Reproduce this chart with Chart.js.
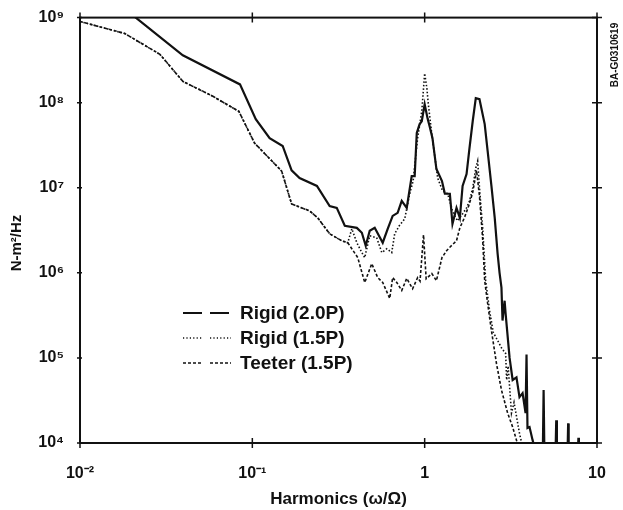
<!DOCTYPE html>
<html>
<head>
<meta charset="utf-8">
<script src="https://cdn.jsdelivr.net/npm/chart.js@4.4.0/dist/chart.umd.min.js"></script>
<style>
  html, body { margin: 0; padding: 0; background: #fff; }
</style>
</head>
<body>
<canvas id="myChart" width="623" height="510"></canvas>
<script>
// tick values and labels
let xTicks = [0.01, 0.1, 1, 10];
let xTickLabels = ['10⁻²', '10⁻¹', '1', '10'];
let yTicks = [1e4, 1e5, 1e6, 1e7, 1e8, 1e9];
let yTickLabels = ['10⁴', '10⁵', '10⁶', '10⁷', '10⁸', '10⁹'];

let seriesNames = ['Rigid (2.0P)', 'Rigid (1.5P)', 'Teeter (1.5P)'];

// Rigid (2.0P)
let rigid20X = [0.0175, 0.0395, 0.0848, 0.1047, 0.126, 0.150, 0.169, 0.188, 0.237, 0.281, 0.309, 0.344, 0.404, 0.432, 0.455, 0.480, 0.513, 0.571, 0.611, 0.652, 0.697, 0.736, 0.787, 0.841, 0.875, 0.900, 0.935, 0.962, 1.0, 1.04, 1.07, 1.11, 1.17, 1.26, 1.31, 1.40, 1.45, 1.53, 1.60, 1.66, 1.75, 1.82, 1.90, 1.98, 2.08, 2.23, 2.32, 2.44, 2.55, 2.65, 2.72, 2.79, 2.83, 2.91, 2.95, 3.11, 3.24, 3.41, 3.55, 3.70, 3.85, 3.90, 3.95, 4.06, 4.23, 4.40, 4.85, 4.90, 4.95, 5.75, 5.80, 5.85, 6.75, 6.80, 6.85, 7.75, 7.80, 7.85];
let rigid20Y = [1.35e9, 3.6e8, 1.64e8, 6.4e7, 3.83e7, 3.1e7, 1.6e7, 1.3e7, 1.05e7, 6.1e6, 5.8e6, 3.57e6, 3.38e6, 2.96e6, 2.08e6, 3.12e6, 3.38e6, 2.26e6, 3.30e6, 4.67e6, 5.07e6, 7.0e6, 5.8e6, 1.37e7, 1.37e7, 4.4e7, 5.6e7, 6.05e7, 9.6e7, 6.5e7, 5.2e7, 3.83e7, 1.66e7, 1.2e7, 8.5e6, 8.5e6, 3.77e6, 5.8e6, 4.43e6, 1.05e7, 1.45e7, 2.92e7, 6.05e7, 1.13e8, 1.10e8, 5.6e7, 2.70e7, 1.05e7, 4.43e6, 1.68e6, 1.0e6, 6.7e5, 2.75e5, 4.7e5, 3.3e5, 1.0e5, 5.5e4, 5.9e4, 3.46e4, 3.85e4, 2.25e4, 1.1e5, 1.5e4, 1.54e4, 1.08e4, 8e3, 8e3, 4.2e4, 8e3, 8e3, 1.85e4, 8e3, 8e3, 1.7e4, 8e3, 8e3, 1.15e4, 8e3];

// low frequency part shared by both 1.5P runs
let lowX = [0.01, 0.0182, 0.0291, 0.0395, 0.059, 0.0835, 0.103, 0.148, 0.169, 0.215, 0.240, 0.281, 0.330, 0.358];
let lowY = [9.0e8, 6.5e8, 3.7e8, 1.78e8, 1.19e8, 7.9e7, 3.35e7, 1.57e7, 6.45e6, 5.35e6, 4.4e6, 2.88e6, 2.38e6, 2.26e6];

// Rigid (1.5P)
let rigid15X = [0.378, 0.404, 0.432, 0.449, 0.480, 0.527, 0.564, 0.603, 0.644, 0.670, 0.712, 0.766, 0.819, 0.857, 0.91, 0.962, 1.0, 1.03, 1.05, 1.10, 1.14, 1.19, 1.27, 1.36, 1.45, 1.55, 1.66, 1.75, 1.82, 1.90, 1.98, 2.03, 2.08, 2.17, 2.26, 2.38, 2.5, 2.8, 2.95, 2.99, 3.05, 3.19, 3.3, 3.55, 3.7];
let rigid15Y = [3.3e6, 2.26e6, 1.73e6, 1.51e6, 2.73e6, 2.58e6, 1.73e6, 1.92e6, 1.73e6, 2.88e6, 3.57e6, 4.31e6, 8.5e6, 1.2e7, 3.83e7, 7.9e7, 2.21e8, 1.47e8, 9.6e7, 4.27e7, 2.49e7, 1.3e7, 9.2e6, 8.5e6, 5.35e6, 4.08e6, 4.93e6, 5.8e6, 7.0e6, 9.95e6, 1.71e7, 2.06e7, 1.0e7, 3.38e6, 8.1e5, 3.6e5, 2.0e5, 1.3e5, 1.13e5, 5.5e4, 8e4, 2.25e4, 3e4, 1.3e4, 9e3];

// Teeter (1.5P)
let teeterX = [0.409, 0.449, 0.493, 0.534, 0.571, 0.627, 0.652, 0.689, 0.736, 0.787, 0.851, 0.91, 0.94, 0.985, 1.02, 1.10, 1.17, 1.26, 1.34, 1.40, 1.53, 1.60, 1.70, 1.80, 1.90, 2.0, 2.08, 2.17, 2.23, 2.32, 2.44, 2.61, 2.79, 3.03, 3.24, 3.41, 3.6];
let teeterY = [1.51e6, 7.7e5, 1.28e6, 8.8e5, 7.7e5, 5.0e5, 8.8e5, 7.7e5, 6.2e5, 8.6e5, 6.5e5, 8.8e5, 8.0e5, 2.8e6, 8.5e5, 9.8e5, 8.1e5, 1.51e6, 1.82e6, 2.0e6, 2.38e6, 3.38e6, 4.43e6, 6.1e6, 8.8e6, 1.6e7, 8e6, 2.5e6, 8.1e5, 4.36e5, 2.1e5, 8.6e4, 4.2e4, 2.25e4, 1.54e4, 1.08e4, 8e3];

function toPoints(xs, ys)
{
    return xs.map((x, i) => ({ x: x, y: ys[i] }));
}

let fontFamily = '"Liberation Sans", Arial, Helvetica, sans-serif';
let ink = '#111';

// dash styles for the legend samples
let legendDash = [[19, 8], [1.2, 2.2], [3, 2]];

let framePlugin =
{
    id: 'frame',
    afterDatasetsDraw(chart)
    {
        let c = chart.ctx;
        let a = chart.chartArea;
        let xs = chart.scales.x;
        let ys = chart.scales.y;

        c.save();
        c.strokeStyle = ink;
        c.lineWidth = 2;
        c.strokeRect(a.left, a.top, a.right - a.left, a.bottom - a.top);

        c.lineWidth = 1.5;
        c.beginPath();
        xTicks.forEach(v =>
        {
            let px = xs.getPixelForValue(v);
            c.moveTo(px, a.bottom - 5); c.lineTo(px, a.bottom + 5);
            c.moveTo(px, a.top - 5); c.lineTo(px, a.top + 5);
        });
        yTicks.forEach(v =>
        {
            let py = ys.getPixelForValue(v);
            c.moveTo(a.right - 5, py); c.lineTo(a.right + 5, py);
            c.moveTo(a.left - 3, py); c.lineTo(a.left + 2, py);
        });
        c.stroke();
        c.restore();
    },
    afterDraw(chart)
    {
        let c = chart.ctx;
        let a = chart.chartArea;
        c.save();

        // legend inside the plot
        let rows = [313, 338, 363];
        seriesNames.forEach((name, i) =>
        {
            c.strokeStyle = ink;
            c.lineWidth = i == 0 ? 2 : 1.6;
            c.setLineDash(legendDash[i]);
            c.beginPath();
            c.moveTo(183, rows[i]); c.lineTo(203, rows[i]);
            c.moveTo(210, rows[i]); c.lineTo(231, rows[i]);
            c.stroke();
            c.setLineDash([]);
            c.fillStyle = ink;
            c.font = 'bold 19px ' + fontFamily;
            c.textAlign = 'left';
            c.textBaseline = 'middle';
            c.fillText(name, 240, rows[i] + 1);
        });

        // y axis title, sits a little below the middle of the axis
        c.save();
        c.translate(17, 243);
        c.rotate(-Math.PI / 2);
        c.font = 'bold 15px ' + fontFamily;
        c.textAlign = 'center';
        c.textBaseline = 'middle';
        c.fillText('N-m²/Hz', 0, 0);
        c.restore();

        // figure id on the right edge
        c.translate(a.right + 18, 55);
        c.rotate(-Math.PI / 2);
        c.font = 'bold 10px ' + fontFamily;
        c.textAlign = 'center';
        c.textBaseline = 'middle';
        c.fillText('BA-G0310619', 0, 0);
        c.restore();
    }
};

let ctx = document.getElementById('myChart').getContext('2d');

let myChart = new Chart(ctx,
{
    type: 'line',
    data:
    {
        datasets:
        [
            {
                label: seriesNames[0],
                data: toPoints(rigid20X, rigid20Y),
                borderColor: ink,
                borderWidth: 2.2,
            },
            {
                label: seriesNames[1],
                data: toPoints(lowX.concat(rigid15X), lowY.concat(rigid15Y)),
                borderColor: ink,
                borderWidth: 1.6,
                borderDash: [1.5, 2],
            },
            {
                label: seriesNames[2],
                data: toPoints(lowX.concat(teeterX), lowY.concat(teeterY)),
                borderColor: ink,
                borderWidth: 1.6,
                borderDash: [3, 2],
            }
        ]
    },
    options:
    {
        responsive: false,
        animation: false,
        events: [],
        elements:
        {
            point: { radius: 0 },
            line: { tension: 0, fill: false }
        },
        layout: { padding: { top: 16, right: 26, left: 0, bottom: 0 } },
        plugins:
        {
            legend: { display: false },
            tooltip: { enabled: false }
        },
        scales:
        {
            x:
            {
                type: 'logarithmic',
                min: 0.01,
                max: 10,
                afterBuildTicks: s => { s.ticks = xTicks.map(v => ({ value: v })); },
                afterFit: s => { s.height = 67; },
                grid: { display: false },
                border: { display: false },
                ticks:
                {
                    autoSkip: false,
                    maxRotation: 0,
                    padding: 13,
                    color: ink,
                    font: { family: fontFamily, size: 16, weight: 'bold' },
                    callback: (v) => xTickLabels[xTicks.indexOf(v)]
                },
                title:
                {
                    display: true,
                    text: 'Harmonics (ω/Ω)',
                    color: ink,
                    font: { family: fontFamily, size: 17, weight: 'bold' },
                    padding: { top: 0, bottom: 0 }
                }
            },
            y:
            {
                type: 'logarithmic',
                min: 1e4,
                max: 1e9,
                afterBuildTicks: s => { s.ticks = yTicks.map(v => ({ value: v })); },
                afterFit: s => { s.width = 80; },
                grid: { display: false },
                border: { display: false },
                ticks:
                {
                    autoSkip: false,
                    padding: 8,
                    color: ink,
                    font: { family: fontFamily, size: 16, weight: 'bold' },
                    callback: (v) => yTickLabels[yTicks.indexOf(v)]
                }
            }
        }
    },
    plugins: [framePlugin]
});
</script>
</body>
</html>
